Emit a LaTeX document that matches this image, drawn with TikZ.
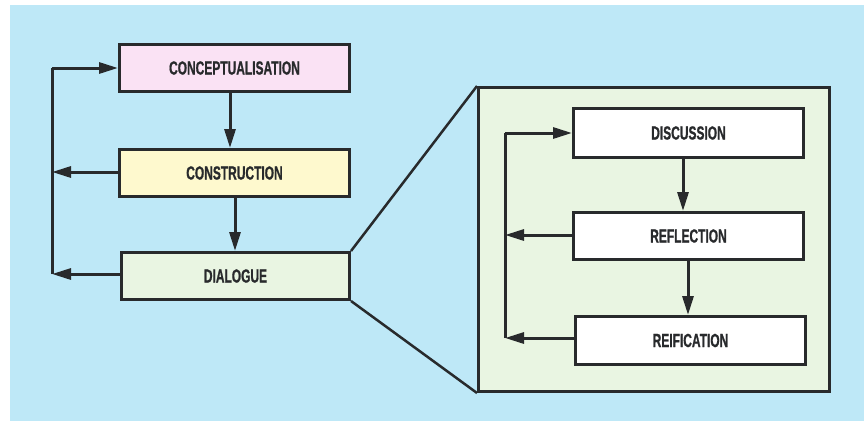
\documentclass[tikz,border=0pt]{standalone}
\usepackage{fontspec}
\setmainfont{Liberation Sans}
\newfontfamily\labelfont[FakeStretch=0.63,FakeBold=0.8]{Liberation Sans Bold}
\usetikzlibrary{arrows.meta}
\definecolor{pagebg}{RGB}{190,232,247}
\definecolor{ink}{RGB}{40,42,44}
\definecolor{pinkfill}{RGB}{250,226,244}
\definecolor{yellowfill}{RGB}{254,249,206}
\definecolor{greenfill}{RGB}{233,245,226}
\tikzset{
  stagebox/.style={draw=ink, line width=3pt, minimum height=47pt,
    inner sep=0pt, font=\labelfont\fontsize{19}{21}\selectfont, text=ink},
  flow/.style={draw=ink, line width=3pt,
    -{Triangle[length=19pt,width=11pt]}},
  loopline/.style={draw=ink, line width=3pt},
  zoomline/.style={draw=ink, line width=2.5pt}
}
\begin{document}
\begin{tikzpicture}[x=1pt,y=-1pt]
  \useasboundingbox (0,0) rectangle (868,421);
  \fill[white] (0,0) rectangle (868,421);
  \fill[pagebg] (10,5) rectangle (864,421);

  % enlarged view of the dialogue stage
  \node[draw=ink, line width=3pt, fill=greenfill, inner sep=0pt,
        minimum width=351pt, minimum height=304pt, anchor=north west]
        (panel) at (477,86) {};

  % main cycle
  \node[stagebox, fill=pinkfill, minimum width=230pt, anchor=north west]
        (concept) at (118,43) {CONCEPTUALISATION};
  \node[stagebox, fill=yellowfill, minimum width=230pt, anchor=north west]
        (construct) at (118,148) {CONSTRUCTION};
  \node[stagebox, fill=greenfill, minimum width=228pt, anchor=north west]
        (dialogue) at (120,251) {DIALOGUE};

  \draw[zoomline] (dialogue.north east) -- (panel.north west);
  \draw[zoomline] (dialogue.south east) -- (panel.south west);

  \draw[flow] (concept.south -| 230,0) -- (construct.north -| 230,0);
  \draw[flow] (construct.south -| 235,0) -- (dialogue.north -| 235,0);

  \coordinate (ltop) at (52,68);
  \coordinate (lmid) at (52,172);
  \coordinate (lbot) at (52,274);
  \draw[loopline] (lbot) -- (ltop);
  \draw[flow] (ltop) -- (concept.west |- ltop);
  \draw[flow] (construct.west |- lmid) -- (lmid);
  \draw[flow] (dialogue.west |- lbot) -- (lbot);

  % inner cycle
  \node[stagebox, fill=white, minimum width=230pt, minimum height=49pt,
        anchor=north west] (discuss) at (572,107) {DISCUSSION};
  \node[stagebox, fill=white, minimum width=230pt, anchor=north west]
        (reflect) at (572,211) {REFLECTION};
  \node[stagebox, fill=white, minimum width=230pt, minimum height=48pt,
        anchor=north west] (reify) at (574,315) {REIFICATION};

  \draw[flow] (discuss.south -| 683,0) -- (reflect.north -| 683,0);
  \draw[flow] (reflect.south -| 688,0) -- (reify.north -| 688,0);

  \coordinate (rtop) at (505,133);
  \coordinate (rmid) at (505,235);
  \coordinate (rbot) at (505,338);
  \draw[loopline] (rbot) -- (rtop);
  \draw[flow] (rtop) -- (discuss.west |- rtop);
  \draw[flow] (reflect.west |- rmid) -- (rmid);
  \draw[flow] (reify.west |- rbot) -- (rbot);
\end{tikzpicture}
\end{document}
